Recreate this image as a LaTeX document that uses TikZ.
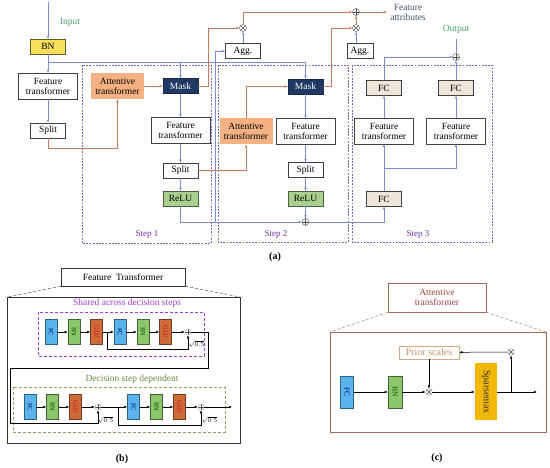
\documentclass[tikz,border=0pt]{standalone}
\usepackage{fontspec}
\setmainfont{Liberation Serif}
\usepackage{amsmath}
\usetikzlibrary{arrows.meta,calc,positioning}

% colours
\definecolor{blueline}{HTML}{7D8CCD}
\definecolor{redline}{HTML}{CD785F}
\definecolor{masknavy}{HTML}{203864}
\definecolor{relugreen}{HTML}{A9D08E}
\definecolor{atorange}{HTML}{F4B183}
\definecolor{bnyellow}{HTML}{F7E05A}
\definecolor{fcbeige}{HTML}{EFE6DA}
\definecolor{stepblue}{HTML}{7A62C4}
\definecolor{steppurple}{HTML}{7030A0}
\definecolor{txtgreen}{HTML}{4E9E6C}
\definecolor{txtslate}{HTML}{44546A}
\definecolor{fcblue}{HTML}{5AB4EB}
\definecolor{bngreen}{HTML}{8CC66A}
\definecolor{gluorange}{HTML}{CD6B3A}
\definecolor{sharedpurple}{HTML}{A040D8}
\definecolor{depgreen}{HTML}{6E8B3D}
\definecolor{atbrown}{HTML}{A06A55}
\definecolor{attext}{HTML}{A0463C}
\definecolor{priortan}{HTML}{C8946A}
\definecolor{spmgold}{HTML}{F2B807}

\tikzset{
  every node/.style={font=\fontsize{9.5}{10}\selectfont},
  fbox/.style={draw=black!75, fill=white, align=center, inner sep=1pt,
    minimum width=59pt, minimum height=26pt},
  sbox/.style={draw=black!75, fill=white, inner sep=1pt,
    minimum width=35pt, minimum height=15pt},
  abox/.style={fbox, draw=none, fill=atorange, minimum width=53pt},
  mbox/.style={sbox, draw=masknavy!70!black, fill=masknavy, text=white},
  rbox/.style={sbox, draw=relugreen!45!black, fill=relugreen},
  cbox/.style={sbox, fill=fcbeige},
  stepframe/.style={draw=stepblue, line width=0.8pt, dash pattern=on 1.8pt off 1.4pt},
  steplabel/.style={text=steppurple, font=\fontsize{9}{10}\selectfont},
  bl/.style={draw=blueline, line width=0.6pt},
  rd/.style={draw=redline, line width=0.6pt},
  opadd/.style={circle, draw=black!70, fill=white, minimum size=7pt, inner sep=0pt,
    path picture={\draw[black!70, line width=0.4pt]
      (path picture bounding box.north) -- (path picture bounding box.south)
      (path picture bounding box.west) -- (path picture bounding box.east);}},
  opmul/.style={circle, draw=black!70, fill=white, minimum size=7pt, inner sep=0pt,
    path picture={\draw[black!70, line width=0.4pt]
      (path picture bounding box.north west) -- (path picture bounding box.south east)
      (path picture bounding box.north east) -- (path picture bounding box.south west);}},
  % part (b) and (c)
  blk/.style={rotate=-90, inner sep=0pt, minimum width=25pt, minimum height=12pt,
    font=\fontsize{6.5}{7}\selectfont},
  fcblk/.style={blk, draw=fcblue!55!black, fill=fcblue, text=blue!40!black},
  bnblk/.style={blk, draw=bngreen!50!black, fill=bngreen, text=green!30!black},
  glublk/.style={blk, draw=gluorange!55!black, fill=gluorange, text=red!85!black},
  bk/.style={draw=black, line width=0.5pt},
  bka/.style={bk, -{Latex[length=3.2pt,width=2.6pt]}},
  sqlbl/.style={inner sep=0pt, font=\fontsize{6}{7}\selectfont},
  sublbl/.style={font=\fontsize{10}{11}\selectfont\bfseries},
}

\begin{document}
\begin{tikzpicture}[x=1pt, y=-1pt, >={Stealth[length=3.4pt,width=2.6pt]}]
  \useasboundingbox (0,0) rectangle (550,468);

  % ================= (a) =================
  % step frames
  \draw[stepframe] (82,65) rectangle (211,243);
  \draw[stepframe] (218,65) rectangle (348,242);
  \draw[stepframe] (352,65) rectangle (492,242);
  \node[steplabel] (st1) at (147,234) {Step 1};
  \node[steplabel] (st2) at (276,234) {Step 2};
  \node[steplabel] (st3) at (418,234) {Step 3};

  % input side
  \coordinate (inTop) at (48,2);
  \node[text=txtgreen] (inLbl) at (70,22) {Input};
  \node[sbox, fill=bnyellow, draw=bnyellow!40!black] (bn0) at (48,46.5) {BN};
  \node[fbox] (ft0) at (48,86) {Feature\\transformer};
  \node[sbox] (split0) at (48,130.5) {Split};

  % step 1
  \node[abox] (at1) at (117.5,86) {Attentive\\transformer};
  \node[mbox] (mask1) at (180.5,86) {Mask};
  \node[fbox] (ft1) at (180.5,130.5) {Feature\\transformer};
  \node[sbox] (split1) at (180.5,170.5) {Split};
  \node[rbox] (relu1) at (180.5,198.5) {ReLU};

  % step 2
  \node[abox] (at2) at (246,131.5) {Attentive\\transformer};
  \node[mbox] (mask2) at (305.5,86.5) {Mask};
  \node[fbox] (ft2) at (305.5,131.5) {Feature\\transformer};
  \node[sbox] (split2) at (305.5,170) {Split};
  \node[rbox] (relu2) at (305.5,198.5) {ReLU};
  \node[opadd] (sumR) at (305.5,222) {};

  % aggregation on top
  \node[sbox] (agg1) at (243,51) {Agg.};
  \node[sbox, minimum width=26pt] (agg2) at (360,51) {Agg.};
  \node[opmul] (mul1) at (243,28) {};
  \node[opmul] (mul2) at (356,28) {};
  \node[opadd] (addA) at (356,12) {};
  \node[text=txtslate, align=center] (attr) at (408,12) {Feature\\attributes};

  % step 3
  \node[cbox] (fc3) at (384,199) {FC};
  \node[fbox] (ft3a) at (384,131) {Feature\\transformer};
  \node[fbox] (ft3b) at (456,131) {Feature\\transformer};
  \node[cbox] (fc3a) at (384,88) {FC};
  \node[cbox] (fc3b) at (456,88) {FC};
  \node[opadd] (addO) at (456,57) {};
  \node[text=txtgreen] (outLbl) at (456,29) {Output};
  \coordinate (outTop) at (456,39);

  % blue connectors
  \draw[bl,->] (inTop) -- (bn0);
  \draw[bl] (bn0) -- (48,62) coordinate (j0);
  \draw[bl,->] (j0) -- (ft0);
  \draw[bl] (j0) -- (305.5,62) coordinate (j2);
  \draw[bl,->] (j2) -- (mask2);
  \draw[bl,->] (j0 -| mask1) -- (mask1);
  \draw[bl,->] (ft0) -- (split0);
  \draw[bl,->] (mask1) -- (ft1);
  \draw[bl,->] (ft1) -- (split1);
  \draw[bl,->] (split1) -- (relu1);
  \draw[bl,->] (mask2) -- (ft2);
  \draw[bl,->] (ft2) -- (split2);
  \draw[bl,->] (split2) -- (relu2);
  \draw[bl,->] (relu1) |- (sumR);
  \draw[bl,->] (relu2) -- (sumR);
  \coordinate (jr) at (215,222);
  \draw[bl,->] (jr) |- (agg1);
  \draw[bl,->] (agg1) -- (mul1);
  \draw[bl,->] (mul2 |- agg2.north) -- (mul2);
  \draw[bl,->] (sumR) -| (fc3);
  \draw[bl] (fc3) -- (384,168) coordinate (j3);
  \draw[bl,->] (j3) -- (ft3a);
  \draw[bl,->] (j3) -| (ft3b);
  \draw[bl,->] (ft3a) -- (fc3a);
  \draw[bl,->] (ft3b) -- (fc3b);
  \draw[bl,->] (fc3a) |- (addO);
  \draw[bl,->] (fc3b) -- (addO);
  \draw[bl] (addO) -- (outTop);

  % red connectors
  \draw[rd,->] (split0) -- (48,148) -| (at1);
  \draw[rd,->] (at1) -- (mask1);
  \draw[rd,->] (mask1) -- (208,86) |- (mul1);
  \draw[rd,->] (mul1) |- (addA);
  \draw[rd,->] (split1) -| (at2);
  \draw[rd,->] (at2) |- (mask2);
  \draw[rd,->] (mask2) -- (331,86.5) |- (mul2);
  \draw[rd,->] (mul2) -- (addA);
  \draw[rd,->] (addA) -- (attr.west);

  \node[sublbl] (la) at (275,257) {(a)};

  % ================= (b) =================
  \node[draw=black!80, minimum width=124pt, minimum height=18pt, inner sep=1pt] (ftT) at (123,277) {Feature~~Transformer};
  \coordinate (bTL) at (7,297);
  \coordinate (bTR) at (240,297);
  \coordinate (bBR) at (240,443);
  \draw[black!80, line width=0.6pt] (bTL) rectangle (bBR);
  \draw[black!80, dash pattern=on 3pt off 2pt] (ftT.south west) -- (bTL);
  \draw[black!80, dash pattern=on 3pt off 2pt] (ftT.south east) -- (bTR);

  % shared across steps
  \node[text=sharedpurple] (shT) at (127,303) {Shared across decision steps};
  \draw[sharedpurple, dash pattern=on 3pt off 2pt] (38,312) rectangle (204,356);
  \node[fcblk] (r1fc1) at (51,332) {FC};
  \node[bnblk] (r1bn1) at (74,332) {BN};
  \node[glublk] (r1gl1) at (96.5,332) {GLU};
  \node[fcblk] (r1fc2) at (120,332) {FC};
  \node[bnblk] (r1bn2) at (143,332) {BN};
  \node[glublk] (r1gl2) at (165.5,332) {GLU};
  \node[opadd, minimum size=6pt, draw=black!40] (r1add) at (188,332) {};
  \node[sqlbl] (r1sq) at (196.5,344) {$\sqrt{0.5}$};
  \draw[bka] (r1fc1) -- (r1bn1);
  \draw[bka] (r1bn1) -- (r1gl1);
  \draw[bka] (r1gl1) -- (r1fc2);
  \draw[bka] (r1fc2) -- (r1bn2);
  \draw[bka] (r1bn2) -- (r1gl2);
  \draw[bka] (r1gl2) -- (r1add);
  \draw[bka] (107,332) -- (107,349) -| (r1add);

  % decision step dependent
  \node[text=depgreen] (dpT) at (132,379) {Decision step dependent};
  \draw[depgreen!80, dash pattern=on 3pt off 2pt] (13,387) rectangle (225,432);
  \node[fcblk] (r2fc1) at (30,407) {FC};
  \node[bnblk] (r2bn1) at (52.5,407) {BN};
  \node[glublk] (r2gl1) at (75.5,407) {GLU};
  \node[opadd, minimum size=6pt, draw=black!40] (r2add1) at (98,407) {};
  \node[fcblk] (r2fc2) at (133.5,407) {FC};
  \node[bnblk] (r2bn2) at (156.5,407) {BN};
  \node[glublk] (r2gl2) at (179.5,407) {GLU};
  \node[opadd, minimum size=6pt, draw=black!40] (r2add2) at (201,407) {};
  \node[sqlbl] (r2sq1) at (105.5,420) {$\sqrt{0.5}$};
  \node[sqlbl] (r2sq2) at (209.5,420) {$\sqrt{0.5}$};
  \coordinate (bOut) at (232,407);
  \draw[bka] (r1add) -- (208,332) -- (208,368) -- (10,368) -- (10,423) -| (r2add1);
  \draw[bka] (r2fc1) -- (r2bn1);
  \draw[bka] (r2bn1) -- (r2gl1);
  \draw[bka] (r2gl1) -- (r2add1);
  \draw[bka] (r2add1) -- (r2fc2);
  \draw[bka] (r2fc2) -- (r2bn2);
  \draw[bka] (r2bn2) -- (r2gl2);
  \draw[bka] (r2gl2) -- (r2add2);
  \draw[bka] (118,407) -- (118,425) -| (r2add2);
  \draw[bka] (r2add2) -- (bOut);

  \node[sublbl] (lb) at (122,459) {(b)};

  % ================= (c) =================
  \node[draw=atbrown, line width=0.6pt, text=attext, align=center, minimum width=98pt,
    minimum height=29pt, inner sep=1pt] (atT) at (437,297.5) {Attentive\\transformer};
  \coordinate (cTL) at (330,332);
  \coordinate (cTR) at (546,332);
  \coordinate (cBR) at (546,432);
  \draw[atbrown, line width=0.7pt] (cTL) rectangle (cBR);
  \draw[atbrown, dash pattern=on 3pt off 2pt] (atT.south west) -- (cTL);
  \draw[atbrown, dash pattern=on 3pt off 2pt] (atT.south east) -- (cTR);

  \node[fcblk, minimum width=32pt, minimum height=13pt, font=\fontsize{7.5}{8}\selectfont] (cfc) at (347,392) {FC};
  \node[bnblk, minimum width=32pt, minimum height=14pt, font=\fontsize{7.5}{8}\selectfont] (cbn) at (395,392) {BN};
  \node[opmul, minimum size=6.5pt, draw=black!45] (cmul) at (429,392) {};
  \node[rotate=-90, fill=spmgold, minimum width=57pt, minimum height=22pt, inner sep=0pt,
    text=black!80, font=\fontsize{10}{11}\selectfont] (spm) at (486,392) {Sparsemax};
  \node[draw=priortan!80, text=priortan, minimum width=60pt, minimum height=13pt,
    inner sep=0pt, font=\fontsize{10}{11}\selectfont] (prior) at (429,352.5) {Prior scales};
  \node[opmul, minimum size=6.5pt, draw=black!45] (cmul2) at (511,352) {};
  \coordinate (cOut) at (537,392);
  \draw[bka] (cfc) -- (cbn);
  \draw[bka] (cbn) -- (cmul);
  \draw[bka] (prior) -- (cmul);
  \draw[bka] (cmul) -- (spm);
  \draw[bka] (spm) -- (cOut);
  \draw[bka] (cmul2 |- cOut) -- (cmul2);
  \draw[bka] (cmul2) -- (prior);

  \node[sublbl] (lc) at (437,458) {(c)};
\end{tikzpicture}
\end{document}
